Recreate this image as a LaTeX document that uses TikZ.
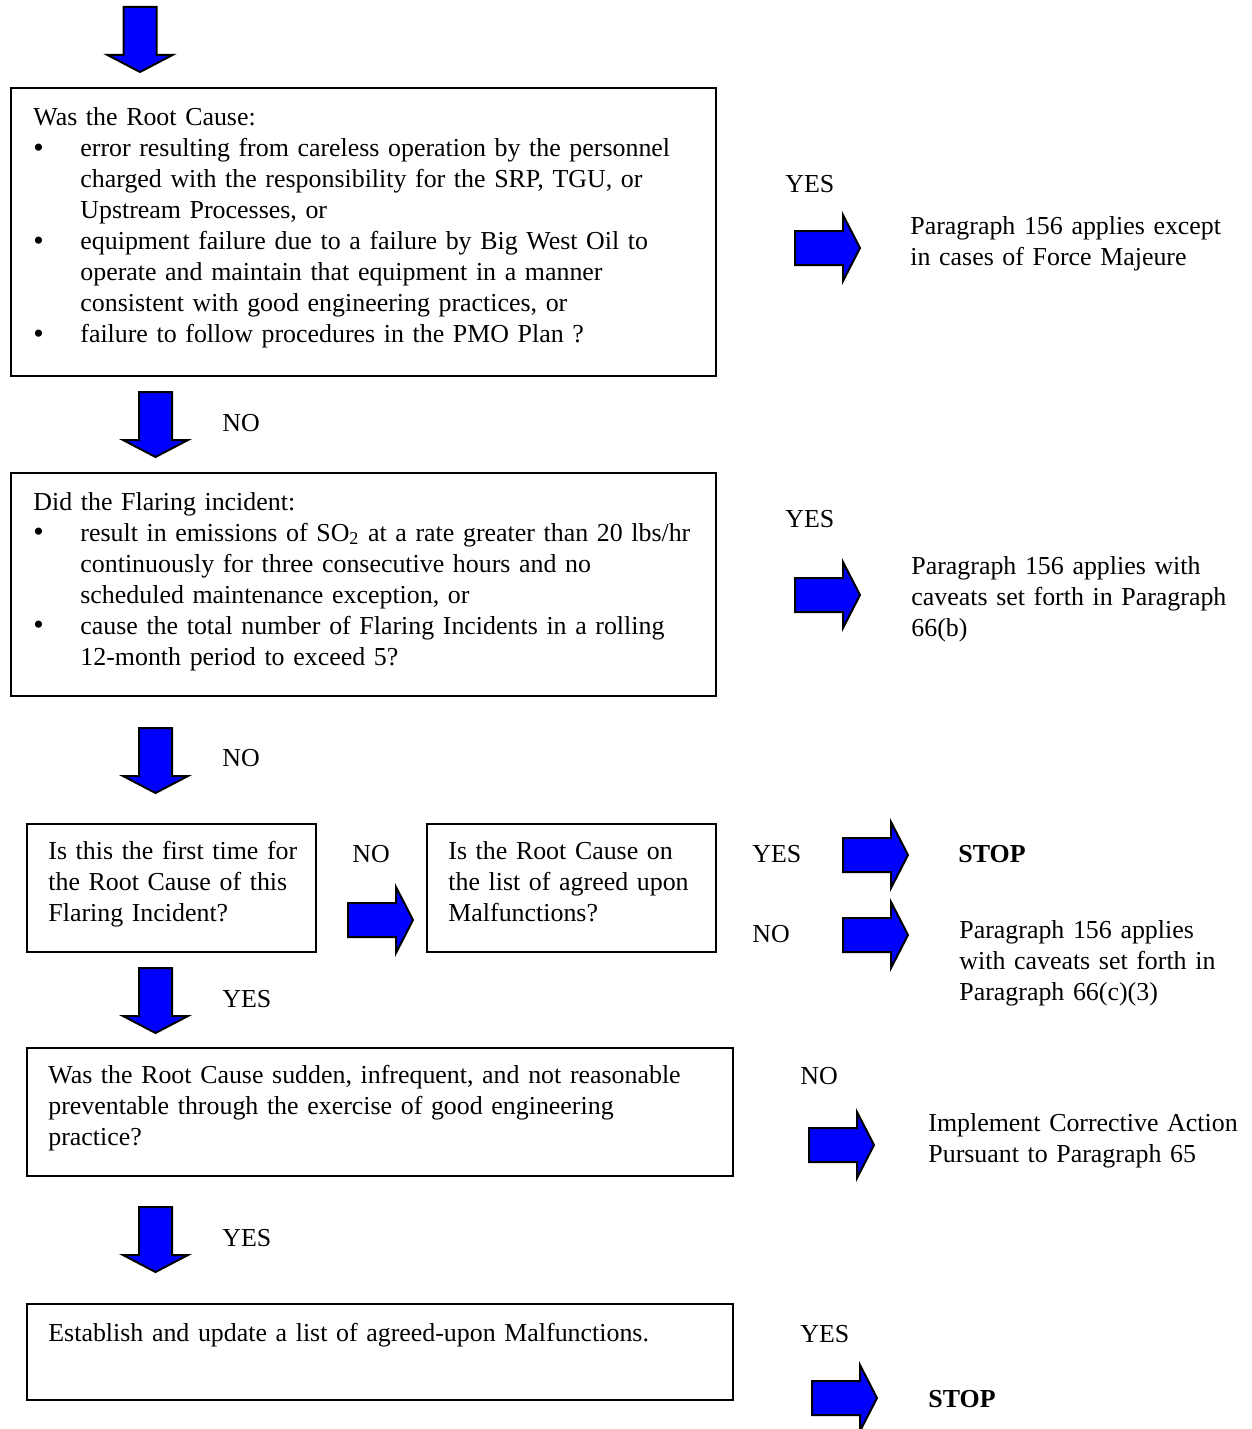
\documentclass[tikz,border=0pt]{standalone}
\usepackage{fontspec}
\setmainfont{Liberation Serif}
\usetikzlibrary{fit}
\definecolor{arrowblue}{HTML}{0000FF}
\newcommand{\bul}{\makebox[23.5pt][l]{\raisebox{-0.2pt}{\scalebox{1.15}{\textbullet}}}}
\newcommand{\ind}{\hspace*{23.5pt}}

\begin{document}
\begin{tikzpicture}[x=0.5pt, y=-0.5pt,
  box/.style={draw=black, line width=0.8pt, inner sep=0pt},
  txt/.style={anchor=base west, inner sep=0pt, align=left, text width=#1,
    font=\fontsize{12.95}{15.5}\selectfont},
  txt/.default=350pt,
  lbl/.style={anchor=base west, inner sep=0pt, font=\fontsize{12.95}{15.5}\selectfont},
  stop/.style={lbl, font=\fontsize{12.95}{15.5}\selectfont\bfseries},
  blk/.style={draw=black, fill=arrowblue, line width=1pt, line join=miter},
  pics/dnarr/.style={code={
    \draw[blk] (-16.5,0) -- (16.5,0) -- (16.5,48) -- (32.5,48) -- (0,65)
      -- (-32.5,48) -- (-16.5,48) -- cycle;}},
  pics/rtarr/.style={code={
    \draw[blk] (0,-17) -- (48,-17) -- (48,-33) -- (65,0) -- (48,33)
      -- (48,17) -- (0,17) -- cycle;}},
]
  \useasboundingbox (0,0) rectangle (1252,1429);

  % ---- question boxes ----
  \node[box, fit={(11,88) (716,376)}] (q1) {};
  \node[box, fit={(11,473) (716,696)}] (q2) {};
  \node[box, fit={(27,824) (316,952)}] (q3) {};
  \node[box, fit={(427,824) (716,952)}] (q4) {};
  \node[box, fit={(27,1048) (733,1176)}] (q5) {};
  \node[box, fit={(27,1304) (733,1400)}] (q6) {};

  % ---- box texts ----
  \node[txt] (q1t) at (33,126) {Was the Root Cause:\\
    \bul error resulting from careless operation by the personnel\\
    \ind charged with the responsibility for the SRP, TGU, or\\
    \ind Upstream Processes, or\\
    \bul equipment failure due to a failure by Big West Oil to\\
    \ind operate and maintain that equipment in a manner\\
    \ind consistent with good engineering practices, or\\
    \bul failure to follow procedures in the PMO Plan ?};
  \node[txt] (q2t) at (33,510) {Did the Flaring incident:\\
    \bul result in emissions of SO\textsubscript{2} at a rate greater than 20 lbs/hr\\
    \ind continuously for three consecutive hours and no\\
    \ind scheduled maintenance exception, or\\
    \bul cause the total number of Flaring Incidents in a rolling\\
    \ind 12-month period to exceed 5?};
  \node[txt=140pt] (q3t) at (48,859) {Is this the first time for\\
    the Root Cause of this\\Flaring Incident?};
  \node[txt=140pt] (q4t) at (448,859) {Is the Root Cause on\\
    the list of agreed upon\\Malfunctions?};
  \node[txt] (q5t) at (48,1083) {Was the Root Cause sudden, infrequent, and not reasonable\\
    preventable through the exercise of good engineering\\practice?};
  \node[txt] (q6t) at (48,1341) {Establish and update a list of agreed-upon Malfunctions.};

  % ---- outcomes ----
  \node[txt=170pt] (r1) at (910,234) {Paragraph 156 applies except\\in cases of Force Majeure};
  \node[txt=170pt] (r2) at (911,574) {Paragraph 156 applies with\\caveats set forth in Paragraph\\66(b)};
  \node[stop] (s1) at (958,862) {STOP};
  \node[txt=140pt] (r3) at (959,938) {Paragraph 156 applies\\with caveats set forth in\\Paragraph 66(c)(3)};
  \node[txt=170pt] (r4) at (928,1131) {Implement Corrective Action\\Pursuant to Paragraph 65};
  \node[stop] (s2) at (928,1407) {STOP};

  % ---- YES / NO labels ----
  \foreach \n/\x/\y/\t in {y1/785/192/YES, y2/785/527/YES, n1/222/431/NO,
      n2/222/766/NO, n3/352/862/NO, y3/752/862/YES, n4/752/942/NO,
      y4/222/1007/YES, n5/800/1084/NO, y5/222/1246/YES, y6/800/1342/YES}
    \node[lbl] (\n) at (\x,\y) {\t};

  % ---- block arrows ----
  \pic at (140,7) {dnarr};
  \foreach \y in {392,728,968,1207}
    \pic at (155.5,\y) {dnarr};
  \foreach \x/\y in {795/248, 795/595, 348/920, 843/855, 843/935, 809/1145, 812/1398}
    \pic at (\x,\y) {rtarr};
\end{tikzpicture}
\end{document}
